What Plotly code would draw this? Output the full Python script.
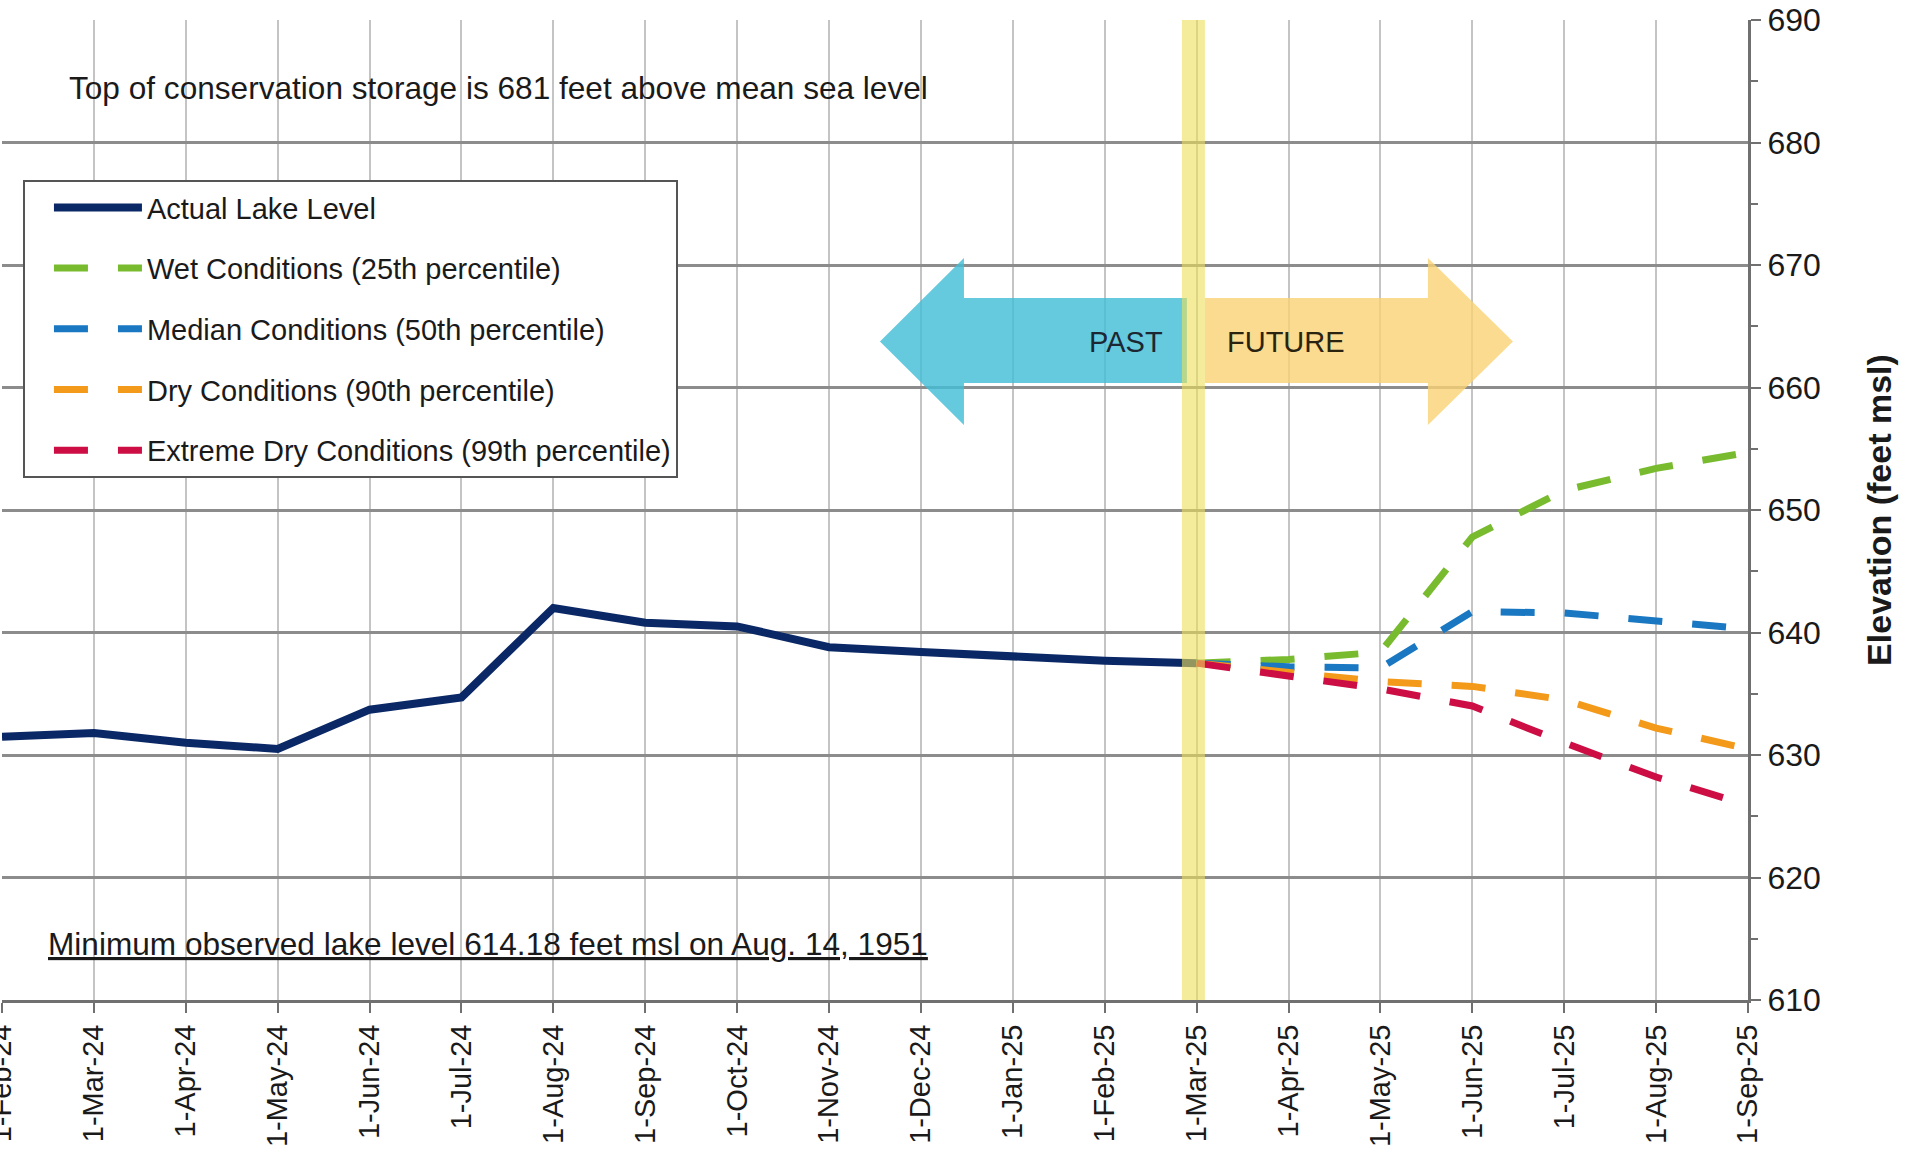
import plotly.graph_objects as go

# ---------------- data ----------------
months = ["1-Feb-24", "1-Mar-24", "1-Apr-24", "1-May-24", "1-Jun-24", "1-Jul-24",
          "1-Aug-24", "1-Sep-24", "1-Oct-24", "1-Nov-24", "1-Dec-24", "1-Jan-25",
          "1-Feb-25", "1-Mar-25", "1-Apr-25", "1-May-25", "1-Jun-25", "1-Jul-25",
          "1-Aug-25", "1-Sep-25"]

actual_months = months[:14]
actual_level = [631.5, 631.8, 631.0, 630.5, 633.7, 634.7, 642.0, 640.8, 640.5,
                638.8, 638.4, 638.0, 637.7, 637.5]

forecast_months = months[13:]
wet_25th = [637.5, 637.8, 638.4, 647.8, 651.6, 653.4, 654.7]
median_50th = [637.5, 637.2, 637.1, 641.7, 641.6, 641.0, 640.3]
dry_90th = [637.5, 636.8, 636.0, 635.6, 634.5, 632.2, 630.5]
extreme_99th = [637.5, 636.4, 635.4, 634.0, 631.0, 628.2, 625.9]

y_ticks = [610, 620, 630, 640, 650, 660, 670, 680, 690]

FONT = "Liberation Sans, Arial, sans-serif"
idx = {m: i for i, m in enumerate(months)}

fig = go.Figure()

fig.add_trace(go.Scatter(
    x=[idx[m] for m in actual_months], y=actual_level, mode="lines",
    name="Actual Lake Level", legendgroup="a",
    line=dict(color="#0b2866", width=8)))

series = [
    ("Wet Conditions (25th percentile)", wet_25th, "#78bb2f"),
    ("Median Conditions (50th percentile)", median_50th, "#1a78c2"),
    ("Dry Conditions (90th percentile)", dry_90th, "#f39a1b"),
    ("Extreme Dry Conditions (99th percentile)", extreme_99th, "#cc0e45"),
]
for name, vals, col in series:
    fig.add_trace(go.Scatter(
        x=[idx[m] for m in forecast_months], y=vals, mode="lines",
        name=name, legendgroup=name,
        line=dict(color=col, width=7, dash="34px,30px")))

# PAST / FUTURE arrows
cyan_path = ("M 9.554,663.76 L 10.468,670.57 L 10.468,667.31 L 12.894,667.31 "
             "L 12.894,660.37 L 10.468,660.37 L 10.468,656.94 Z")
orange_path = ("M 13.09,667.31 L 15.517,667.31 L 15.517,670.57 L 16.442,663.76 "
               "L 15.517,656.94 L 15.517,660.37 L 13.09,660.37 Z")
shapes = [
    dict(type="path", path=cyan_path, xref="x", yref="y",
         fillcolor="rgba(67,190,214,0.82)", line=dict(width=0), layer="between"),
    dict(type="path", path=orange_path, xref="x", yref="y",
         fillcolor="rgba(249,210,115,0.80)", line=dict(width=0), layer="between"),
    dict(type="rect", xref="x", yref="paper", x0=12.84, x1=13.09, y0=0, y1=1,
         fillcolor="rgba(238,223,88,0.6)", line=dict(width=0), layer="above"),
]

annotations = [
    dict(text="Top of conservation storage is 681 feet above mean sea level",
         xref="paper", yref="paper", x=0.0375, y=0.9306, xanchor="left",
         yanchor="middle", showarrow=False,
         font=dict(family=FONT, size=31.6, color="#1a1a1a")),
    dict(text="<u>Minimum observed lake level 614.18 feet msl on Aug. 14, 1951</u>",
         xref="paper", yref="paper", x=0.0252, y=0.0571, xanchor="left",
         yanchor="middle", showarrow=False,
         font=dict(family=FONT, size=31.6, color="#1a1a1a")),
    dict(text="PAST", xref="x", yref="y", x=12.23, y=663.7, showarrow=False,
         font=dict(family=FONT, size=29, color="#1c2733")),
    dict(text="FUTURE", xref="x", yref="y", x=13.97, y=663.7, showarrow=False,
         font=dict(family=FONT, size=29, color="#2a2310")),
]

fig.update_layout(
    width=1906, height=1153, autosize=False,
    margin=dict(l=2, r=158, t=20, b=153),
    paper_bgcolor="white", plot_bgcolor="white",
    font=dict(family=FONT, color="#1a1a1a"),
    showlegend=True,
    legend=dict(x=0.012, y=0.8367, xanchor="left", yanchor="top",
                bgcolor="white", bordercolor="#555555", borderwidth=2,
                font=dict(family=FONT, size=29, color="#1a1a1a"),
                indentation=24, itemwidth=88, tracegroupgap=20,
                traceorder="grouped"),
    shapes=shapes, annotations=annotations,
    hovermode=False,
)

fig.update_xaxes(
    type="linear", range=[0, len(months) - 1], automargin=False,
    tickmode="array", tickvals=list(range(len(months))), ticktext=months,
    tickangle=-90, tickfont=dict(family=FONT, size=29, color="#1a1a1a"),
    ticklabeloverflow="allow",
    ticks="outside", ticklen=10, tickcolor="#707070", tickwidth=2,
    showgrid=True, gridcolor="#c4c4c4", gridwidth=2,
    showline=True, linecolor="#707070", linewidth=3, zeroline=False,
)

fig.update_yaxes(
    side="right", range=[610, 690], automargin=False,
    tickmode="array", tickvals=y_ticks,
    tickfont=dict(family=FONT, size=32, color="#1a1a1a"),
    ticklabeloverflow="allow",
    ticks="outside", ticklen=10, tickcolor="#707070", tickwidth=2,
    minor=dict(dtick=5, tick0=610, ticks="outside", ticklen=7,
               tickcolor="#707070", showgrid=False),
    showgrid=True, gridcolor="#8c8c8c", gridwidth=2.5,
    showline=True, linecolor="#707070", linewidth=3, zeroline=False,
    title=dict(text="<b>Elevation (feet msl)</b>", standoff=48,
               font=dict(family=FONT, size=34, color="#1a1a1a")),
)

fig.write_html(
    "out.html",
    config={"displayModeBar": False},
    post_script="document.body.style.margin='0';document.body.style.overflow='hidden';",
)
